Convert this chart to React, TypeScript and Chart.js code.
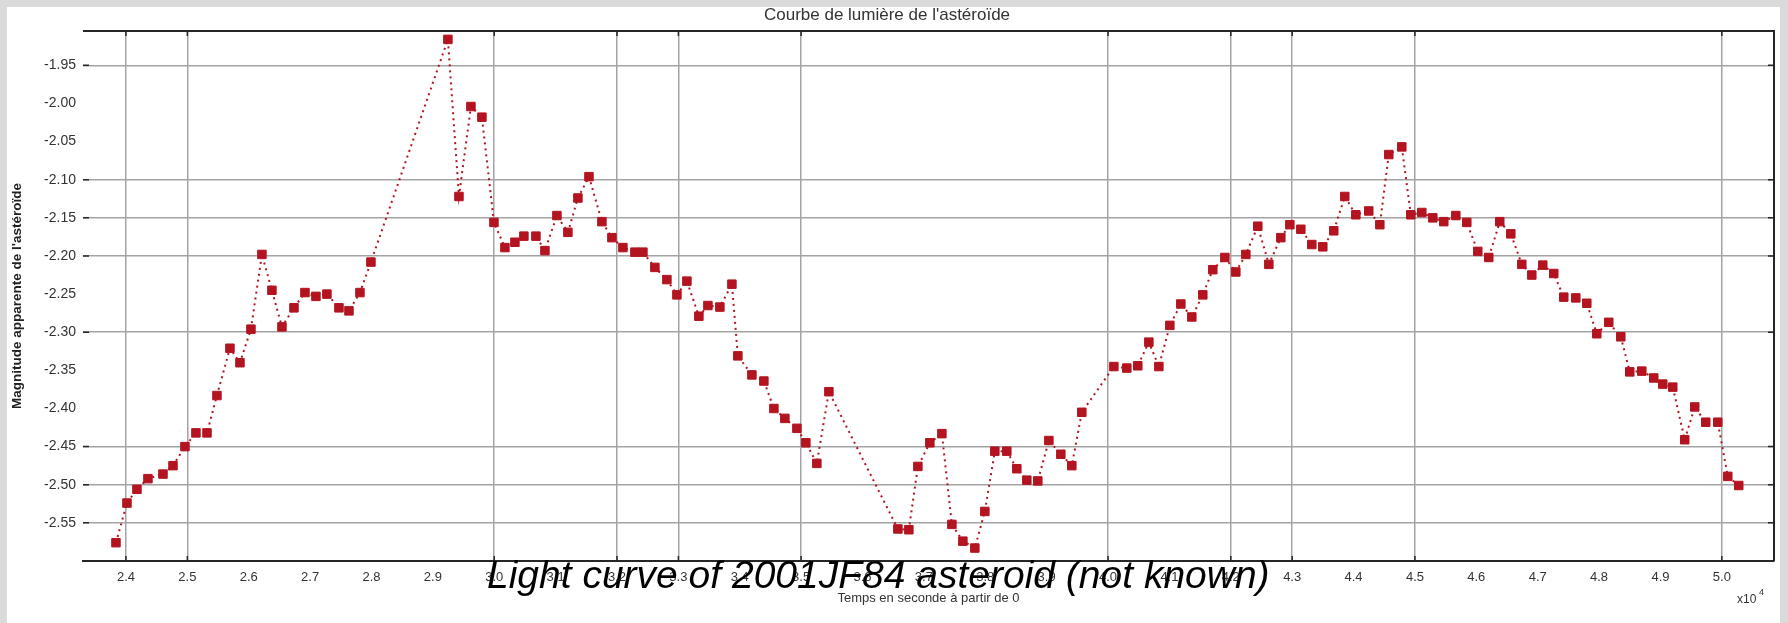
import React, { useEffect, useRef } from 'react';
import { Chart, registerables } from 'chart.js';

Chart.register(...registerables);

// Time (seconds from 0)
const TIME_S = [
  23837, 24016, 24179, 24358, 24603, 24766, 24961, 25140, 25320, 25482,
  25694, 25857, 26036, 26215, 26378, 26541, 26737, 26916, 27095, 27274,
  27470, 27633, 27812, 27991, 29245, 29425, 29620, 29799, 29995, 30174,
  30337, 30483, 30679, 30826, 31021, 31200, 31363, 31543, 31754, 31917,
  32096, 32292, 32422, 32617, 32813, 32976, 33139, 33334, 33481, 33676,
  33872, 33969, 34198, 34393, 34556, 34735, 34931, 35077, 35256, 35452,
  36576, 36755, 36902, 37097, 37293, 37456, 37635, 37830, 37993, 38156,
  38351, 38514, 38677, 38856, 39036, 39231, 39410, 39573, 40095, 40306,
  40485, 40665, 40828, 41007, 41186, 41365, 41544, 41707, 41903, 42082,
  42245, 42440, 42620, 42815, 42962, 43141, 43320, 43499, 43678, 43857,
  44037, 44248, 44428, 44574, 44786, 44933, 45112, 45291, 45470, 45666,
  45845, 46024, 46203, 46382, 46562, 46741, 46904, 47083, 47262, 47425,
  47621, 47800, 47963, 48158, 48354, 48500, 48696, 48891, 49038, 49201,
  49396, 49559, 49738, 49934, 50097, 50276,
];

// Relative magnitude
const MAGNITUDE = [
  -2.576, -2.524, -2.506, -2.492, -2.486, -2.475, -2.450, -2.432, -2.432, -2.383,
  -2.321, -2.340, -2.296, -2.198, -2.245, -2.293, -2.268, -2.248, -2.253, -2.250,
  -2.268, -2.272, -2.248, -2.208, -1.916, -2.122, -2.004, -2.018, -2.156, -2.189,
  -2.182, -2.174, -2.174, -2.193, -2.147, -2.169, -2.124, -2.096, -2.155, -2.176,
  -2.189, -2.195, -2.195, -2.215, -2.231, -2.251, -2.233, -2.279, -2.265, -2.267,
  -2.237, -2.331, -2.356, -2.364, -2.400, -2.413, -2.426, -2.445, -2.472, -2.378,
  -2.558, -2.559, -2.476, -2.445, -2.433, -2.552, -2.574, -2.583, -2.535, -2.456,
  -2.456, -2.479, -2.494, -2.495, -2.442, -2.460, -2.475, -2.405, -2.345, -2.347,
  -2.344, -2.313, -2.345, -2.291, -2.263, -2.280, -2.251, -2.218, -2.202, -2.221,
  -2.198, -2.161, -2.211, -2.176, -2.159, -2.165, -2.185, -2.188, -2.167, -2.122,
  -2.146, -2.141, -2.159, -2.067, -2.057, -2.146, -2.143, -2.150, -2.155, -2.147,
  -2.156, -2.194, -2.202, -2.155, -2.171, -2.211, -2.225, -2.212, -2.223, -2.254,
  -2.255, -2.262, -2.302, -2.287, -2.306, -2.352, -2.351, -2.360, -2.368, -2.372,
  -2.441, -2.398, -2.418, -2.418, -2.489, -2.501,
];

const X_TICKS = [
  24000, 25000, 26000, 27000, 28000, 29000, 30000, 31000, 32000, 33000,
  34000, 35000, 36000, 37000, 38000, 39000, 40000, 41000, 42000, 43000,
  44000, 45000, 46000, 47000, 48000, 49000, 50000,
];
const Y_TICKS = [
  -2.55, -2.5, -2.45, -2.4, -2.35, -2.3, -2.25, -2.2, -2.15, -2.1, -2.05, -2.0, -1.95,
];
const X_GRID = [24000, 25000, 30000, 32000, 33000, 35000, 40000, 42000, 43000, 45000, 50000];
const Y_GRID = [-1.95, -2.1, -2.15, -2.2, -2.3, -2.45, -2.5, -2.55];

const TITLE = "Courbe de lumière de l'astéroïde";
const X_TITLE = 'Temps en seconde à partir de 0';
const Y_TITLE = "Magnitude apparente de l'astéroïde";
const CAPTION = 'Light curve of 2001JF84 asteroid (not known)';

const GRID_COLOR = '#a3a3a3';
const AXIS_COLOR = '#262626';
const RED = '#b3141f';
const FONT = "'Liberation Sans', Arial, sans-serif";

const inList = (list: number[], v: number) => list.some((g) => Math.abs(g - v) < 1e-6);

const framePlugin = {
  id: 'frame',
  afterDraw(chart: any) {
    const { ctx, chartArea: a, scales } = chart;
    ctx.save();
    ctx.strokeStyle = AXIS_COLOR;
    ctx.lineWidth = 2;
    ctx.beginPath();
    ctx.moveTo(a.left, a.top);
    ctx.lineTo(a.right, a.top);
    ctx.lineTo(a.right, a.bottom);
    ctx.stroke();
    // inner tick marks
    ctx.lineWidth = 1.5;
    ctx.beginPath();
    X_GRID.forEach((v) => {
      const px = scales.x.getPixelForValue(v);
      ctx.moveTo(px, a.top);
      ctx.lineTo(px, a.top + 5);
      ctx.moveTo(px, a.bottom);
      ctx.lineTo(px, a.bottom - 5);
    });
    Y_GRID.forEach((v) => {
      const py = scales.y.getPixelForValue(v);
      ctx.moveTo(a.left, py);
      ctx.lineTo(a.left + 6, py);
      ctx.moveTo(a.right, py);
      ctx.lineTo(a.right - 6, py);
    });
    ctx.stroke();
    // x10^4 exponent label
    ctx.fillStyle = '#333';
    ctx.textBaseline = 'alphabetic';
    ctx.textAlign = 'left';
    ctx.font = `12px ${FONT}`;
    ctx.fillText('x10', 1737, 603);
    ctx.font = `9px ${FONT}`;
    ctx.fillText('4', 1759, 595);
    ctx.restore();
  },
};

export default function App() {
  const canvasRef = useRef<HTMLCanvasElement | null>(null);

  useEffect(() => {
    if (!canvasRef.current) return;
    const chart = new Chart(canvasRef.current, {
      type: 'line',
      data: {
        datasets: [
          {
            data: TIME_S.map((x, i) => ({ x, y: MAGNITUDE[i] })),
            borderColor: RED,
            backgroundColor: RED,
            borderWidth: 2,
            borderDash: [2, 4],
            pointStyle: 'rect',
            pointRadius: 6,
            pointBorderWidth: 1,
            pointBackgroundColor: RED,
            pointBorderColor: RED,
            tension: 0,
            fill: false,
          },
        ],
      },
      options: {
        animation: false,
        responsive: false,
        maintainAspectRatio: false,
        layout: { padding: { left: 0, right: 14, top: 0, bottom: 0 } },
        plugins: {
          legend: { display: false },
          tooltip: { enabled: false },
          title: {
            display: true,
            text: TITLE,
            color: '#333',
            font: { family: FONT, size: 17, weight: 'normal' },
            padding: { top: 5, bottom: 5.6 },
          },
        },
        scales: {
          x: {
            type: 'linear',
            min: 23300,
            max: 50850,
            afterBuildTicks: (scale: any) => {
              scale.ticks = X_TICKS.map((v) => ({ value: v }));
            },
            afterFit: (scale: any) => {
              scale.height = 62;
            },
            ticks: {
              autoSkip: false,
              maxRotation: 0,
              padding: 9,
              color: '#333',
              font: { family: FONT, size: 13 },
              callback: (v: any) => (Number(v) / 10000).toFixed(1),
            },
            grid: {
              drawTicks: false,
              lineWidth: 1.5,
              color: (ctx: any) => (ctx.tick && inList(X_GRID, ctx.tick.value) ? GRID_COLOR : 'rgba(0,0,0,0)'),
            },
            border: { display: true, color: AXIS_COLOR, width: 2 },
            title: {
              display: true,
              text: X_TITLE,
              color: '#333',
              font: { family: FONT, size: 13 },
              padding: { top: 0, bottom: 17 },
            },
          },
          y: {
            type: 'linear',
            min: -2.6,
            max: -1.905,
            afterBuildTicks: (scale: any) => {
              scale.ticks = Y_TICKS.map((v) => ({ value: v }));
            },
            afterFit: (scale: any) => {
              scale.width = 83;
            },
            ticks: {
              autoSkip: false,
              padding: 7,
              color: '#333',
              font: { family: FONT, size: 14 },
              callback: (v: any) => Number(v).toFixed(2),
            },
            grid: {
              drawTicks: false,
              lineWidth: 1.5,
              color: (ctx: any) => (ctx.tick && inList(Y_GRID, ctx.tick.value) ? GRID_COLOR : 'rgba(0,0,0,0)'),
            },
            border: { display: false },
            title: {
              display: true,
              text: Y_TITLE,
              color: '#222',
              font: { family: FONT, size: 13.5, weight: 'bold' },
              padding: { top: 9, bottom: 0 },
            },
          },
        },
      },
      plugins: [framePlugin],
    });
    return () => chart.destroy();
  }, []);

  return (
    <div style={{ position: 'fixed', left: 0, top: 0, width: 1788, height: 623, background: '#dadada', overflow: 'hidden' }}>
      <div style={{ position: 'absolute', left: 7, top: 7, width: 1773, height: 616, background: '#ffffff' }} />
      <canvas ref={canvasRef} width={1788} height={623} style={{ position: 'absolute', left: 0, top: 0, width: 1788, height: 623 }} />
      <div
        style={{
          position: 'absolute',
          left: 487,
          top: 555,
          fontFamily: FONT,
          fontStyle: 'italic',
          fontSize: 39,
          lineHeight: 1,
          color: '#000',
          whiteSpace: 'nowrap',
        }}
      >
        {CAPTION}
      </div>
    </div>
  );
}
